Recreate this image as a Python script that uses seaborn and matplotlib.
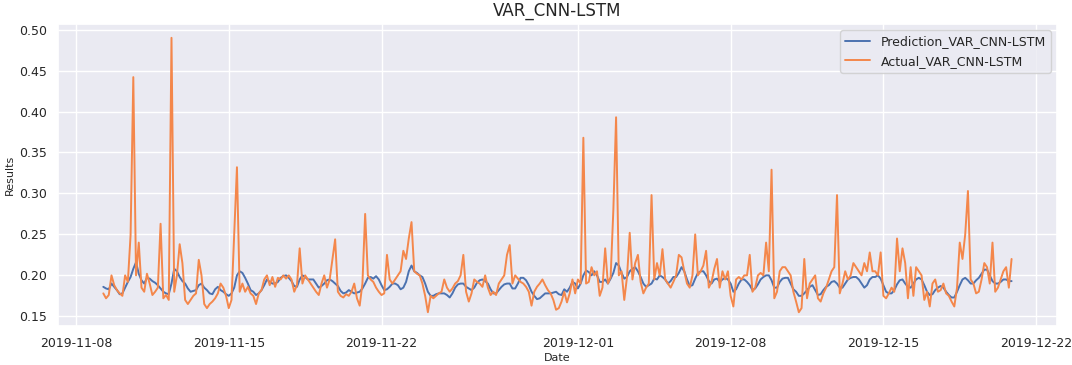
import pandas as pd
import matplotlib
matplotlib.use("Agg")
import matplotlib.pyplot as plt
import matplotlib.dates as mdates
import seaborn as sns

# === DATA (3-hourly samples) ===
START = "2019-11-09 06:00"
STEP = "3h"

actual = [
    0.178, 0.172, 0.176, 0.200, 0.188, 0.182, 0.178, 0.175, 0.200, 0.192,
    0.249, 0.442, 0.200, 0.240, 0.185, 0.180, 0.202, 0.190, 0.176, 0.180,
    0.185, 0.263, 0.172, 0.176, 0.170, 0.490, 0.180, 0.200, 0.238, 0.215,
    0.170, 0.165, 0.170, 0.175, 0.178, 0.219, 0.200, 0.165, 0.160, 0.165,
    0.168, 0.172, 0.178, 0.190, 0.185, 0.175, 0.160, 0.170, 0.250, 0.332,
    0.180, 0.190, 0.180, 0.186, 0.178, 0.175, 0.165, 0.178, 0.182, 0.195,
    0.200, 0.188, 0.198, 0.186, 0.197, 0.195, 0.200, 0.196, 0.200, 0.195,
    0.180, 0.188, 0.233, 0.190, 0.200, 0.195, 0.190, 0.185, 0.180, 0.176,
    0.190, 0.200, 0.185, 0.195, 0.220, 0.244, 0.180, 0.175, 0.173, 0.177,
    0.175, 0.180, 0.190, 0.172, 0.163, 0.190, 0.275, 0.200, 0.195, 0.192,
    0.185, 0.180, 0.176, 0.178, 0.225, 0.195, 0.190, 0.195, 0.200, 0.205,
    0.230, 0.220, 0.245, 0.265, 0.205, 0.202, 0.200, 0.190, 0.175, 0.155,
    0.175, 0.172, 0.175, 0.178, 0.180, 0.195, 0.185, 0.180, 0.184, 0.190,
    0.193, 0.200, 0.225, 0.180, 0.168, 0.178, 0.195, 0.192, 0.190, 0.186,
    0.200, 0.185, 0.176, 0.180, 0.176, 0.190, 0.195, 0.200, 0.225, 0.237,
    0.190, 0.200, 0.196, 0.192, 0.190, 0.186, 0.180, 0.163, 0.180, 0.186,
    0.190, 0.195, 0.188, 0.182, 0.178, 0.170, 0.158, 0.160, 0.168, 0.180,
    0.167, 0.178, 0.195, 0.178, 0.195, 0.190, 0.368, 0.190, 0.192, 0.210,
    0.200, 0.205, 0.175, 0.185, 0.233, 0.190, 0.198, 0.280, 0.393, 0.200,
    0.205, 0.170, 0.198, 0.252, 0.195, 0.215, 0.225, 0.192, 0.178, 0.185,
    0.190, 0.298, 0.195, 0.215, 0.200, 0.232, 0.195, 0.190, 0.185, 0.192,
    0.200, 0.225, 0.222, 0.205, 0.190, 0.185, 0.200, 0.250, 0.200, 0.205,
    0.212, 0.230, 0.185, 0.192, 0.208, 0.220, 0.185, 0.205, 0.195, 0.205,
    0.175, 0.162, 0.195, 0.198, 0.195, 0.200, 0.200, 0.225, 0.180, 0.185,
    0.200, 0.203, 0.200, 0.240, 0.205, 0.329, 0.172, 0.180, 0.205, 0.210,
    0.210, 0.205, 0.200, 0.180, 0.168, 0.155, 0.160, 0.220, 0.172, 0.190,
    0.195, 0.200, 0.172, 0.168, 0.178, 0.185, 0.195, 0.205, 0.210, 0.298,
    0.178, 0.190, 0.205, 0.195, 0.200, 0.215, 0.210, 0.205, 0.200, 0.215,
    0.205, 0.228, 0.205, 0.205, 0.200, 0.228, 0.175, 0.172, 0.178, 0.185,
    0.180, 0.245, 0.205, 0.233, 0.215, 0.172, 0.210, 0.175, 0.210, 0.205,
    0.200, 0.170, 0.180, 0.162, 0.190, 0.195, 0.180, 0.182, 0.190, 0.178,
    0.175, 0.168, 0.162, 0.185, 0.240, 0.220, 0.250, 0.303, 0.195, 0.190,
    0.178, 0.180, 0.195, 0.215, 0.210, 0.190, 0.240, 0.180, 0.185, 0.195,
    0.205, 0.210, 0.185, 0.220,
]

prediction = [
    0.186, 0.184, 0.183, 0.190, 0.186, 0.182, 0.177, 0.178, 0.185, 0.192,
    0.198, 0.208, 0.216, 0.202, 0.194, 0.190, 0.197, 0.196, 0.193, 0.191,
    0.188, 0.184, 0.180, 0.178, 0.177, 0.190, 0.208, 0.205, 0.198, 0.193,
    0.190, 0.184, 0.180, 0.181, 0.182, 0.188, 0.190, 0.185, 0.182, 0.178,
    0.177, 0.183, 0.186, 0.182, 0.180, 0.177, 0.175, 0.178, 0.185, 0.200,
    0.205, 0.203, 0.197, 0.190, 0.182, 0.180, 0.176, 0.178, 0.182, 0.188,
    0.195, 0.192, 0.190, 0.190, 0.192, 0.197, 0.199, 0.200, 0.197, 0.193,
    0.187, 0.186, 0.195, 0.200, 0.198, 0.195, 0.195, 0.195, 0.190, 0.185,
    0.187, 0.190, 0.194, 0.195, 0.193, 0.190, 0.187, 0.181, 0.178, 0.179,
    0.182, 0.180, 0.178, 0.179, 0.180, 0.184, 0.190, 0.197, 0.198, 0.196,
    0.199, 0.195, 0.188, 0.182, 0.183, 0.186, 0.190, 0.190, 0.188, 0.183,
    0.185, 0.192, 0.205, 0.212, 0.205, 0.203, 0.200, 0.198, 0.190, 0.180,
    0.175, 0.175, 0.177, 0.178, 0.178, 0.178, 0.176, 0.173, 0.178, 0.185,
    0.189, 0.190, 0.190, 0.186, 0.184, 0.182, 0.185, 0.191, 0.194, 0.195,
    0.193, 0.190, 0.183, 0.178, 0.178, 0.182, 0.186, 0.189, 0.190, 0.190,
    0.184, 0.184, 0.190, 0.197, 0.197, 0.194, 0.188, 0.180, 0.175, 0.171,
    0.172, 0.175, 0.178, 0.178, 0.178, 0.179, 0.180, 0.177, 0.176, 0.183,
    0.180, 0.185, 0.192, 0.190, 0.184, 0.190, 0.200, 0.206, 0.204, 0.200,
    0.205, 0.200, 0.192, 0.192, 0.195, 0.190, 0.196, 0.203, 0.215, 0.212,
    0.203, 0.196, 0.198, 0.205, 0.208, 0.210, 0.205, 0.198, 0.190, 0.186,
    0.188, 0.190, 0.196, 0.195, 0.200, 0.198, 0.195, 0.190, 0.193, 0.198,
    0.198, 0.203, 0.210, 0.205, 0.195, 0.187, 0.188, 0.196, 0.203, 0.205,
    0.205, 0.200, 0.193, 0.190, 0.195, 0.196, 0.192, 0.195, 0.197, 0.195,
    0.190, 0.180, 0.183, 0.190, 0.195, 0.195, 0.192, 0.188, 0.182, 0.184,
    0.189, 0.195, 0.198, 0.200, 0.200, 0.194, 0.185, 0.185, 0.192, 0.196,
    0.197, 0.197, 0.190, 0.183, 0.180, 0.175, 0.175, 0.178, 0.182, 0.186,
    0.188, 0.182, 0.176, 0.177, 0.182, 0.186, 0.188, 0.192, 0.193, 0.190,
    0.185, 0.185, 0.190, 0.195, 0.197, 0.198, 0.198, 0.195, 0.190, 0.185,
    0.188, 0.195, 0.198, 0.198, 0.200, 0.196, 0.188, 0.180, 0.178, 0.178,
    0.182, 0.189, 0.194, 0.195, 0.190, 0.186, 0.185, 0.190, 0.195, 0.197,
    0.195, 0.188, 0.180, 0.176, 0.177, 0.182, 0.185, 0.187, 0.185, 0.180,
    0.176, 0.173, 0.173, 0.180, 0.188, 0.195, 0.197, 0.194, 0.190, 0.190,
    0.194, 0.197, 0.202, 0.207, 0.207, 0.200, 0.193, 0.190, 0.190, 0.192,
    0.195, 0.195, 0.193, 0.193,
]

dates = pd.date_range(START, periods=len(actual), freq=STEP)
df = pd.DataFrame({"Date": dates, "Prediction": prediction, "Actual": actual})

# === PLOT ===
sns.set_theme(style="darkgrid")
fig, ax = plt.subplots(figsize=(10.72, 3.65), dpi=100)
fig.subplots_adjust(left=0.054, right=0.986, top=0.934, bottom=0.107)

sns.lineplot(data=df, x="Date", y="Prediction", ax=ax, color="#4c72b0",
             linewidth=1.4, label="Prediction_VAR_CNN-LSTM")
sns.lineplot(data=df, x="Date", y="Actual", ax=ax, color="#f4874b",
             linewidth=1.4, label="Actual_VAR_CNN-LSTM")

ax.set_title("VAR_CNN-LSTM", fontsize=12, pad=6)
ax.set_xlabel("Date", fontsize=8, labelpad=2)
ax.set_ylabel("Results", fontsize=8, labelpad=3)
ax.tick_params(labelsize=9, pad=2)
ax.xaxis.set_major_locator(mdates.DayLocator(bymonthday=[1, 8, 15, 22]))
ax.xaxis.set_major_formatter(mdates.DateFormatter("%Y-%m-%d"))
ax.legend(loc="upper right", fontsize=9)

plt.savefig("out.png", dpi=100)
